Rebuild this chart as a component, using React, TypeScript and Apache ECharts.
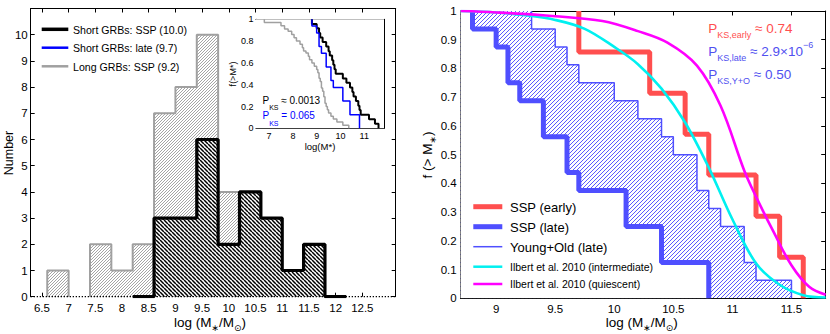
import React, { useEffect, useRef } from 'react';
import * as echarts from 'echarts';

// ---------- data ----------
// Left panel: histogram of host stellar masses, bins of 0.4 dex
const binEdges = [6.6, 7.0, 7.4, 7.8, 8.2, 8.6, 9.0, 9.4, 9.8, 10.2, 10.6, 11.0, 11.4, 11.8, 12.2];
const longCounts = [1, 0, 2, 1, 2, 7, 8, 10, 4, 1, 0, 0, 0, 0];
const shortCounts = [0, 0, 0, 0, 0, 3, 3, 6, 2, 4, 3, 1, 2, 0];
const histXTicks = [6.5, 7, 7.5, 8, 8.5, 9, 9.5, 10, 10.5, 11, 11.5, 12, 12.5];
const histYTicks = [0, 1, 2, 3, 4, 5, 6, 7, 8, 9, 10];

// Inset: cumulative distributions f(>M*)
const insetShortX = [8.8, 9.0, 9.1, 9.15, 9.25, 9.4, 9.5, 9.55, 9.65, 9.7, 9.75, 9.8, 10.1, 10.25, 10.4, 10.5, 10.55, 10.65, 10.75, 10.8, 10.85, 11.2, 11.45, 11.6];
const insetShortF = [0.958, 0.917, 0.875, 0.833, 0.792, 0.75, 0.708, 0.667, 0.625, 0.583, 0.542, 0.5, 0.458, 0.417, 0.375, 0.333, 0.292, 0.25, 0.208, 0.167, 0.125, 0.083, 0.042, 0];
const insetLongX = [6.8, 7.5, 7.65, 7.8, 7.95, 8.05, 8.15, 8.3, 8.4, 8.45, 8.55, 8.65, 8.7, 8.8, 8.9, 9.0, 9.05, 9.1, 9.15, 9.2, 9.25, 9.3, 9.35, 9.4, 9.45, 9.5, 9.6, 9.7, 9.85, 10.1, 10.35];
const insetLongF = [0.97, 0.94, 0.91, 0.89, 0.86, 0.83, 0.8, 0.77, 0.74, 0.71, 0.69, 0.66, 0.63, 0.6, 0.57, 0.54, 0.51, 0.46, 0.43, 0.37, 0.34, 0.29, 0.23, 0.2, 0.17, 0.14, 0.11, 0.086, 0.057, 0.029, 0];
const insetXTicks = [7, 8, 9, 10, 11];
const insetYTicks = [0, 0.2, 0.4, 0.6, 0.8, 1];

// Right panel: f(>M*) for short GRB hosts
const lateSspX = [8.8, 9.0, 9.1, 9.2, 9.4, 9.6, 9.7, 10.1, 10.4, 10.8];
const lateSspF = [0.9375, 0.875, 0.75, 0.6875, 0.5625, 0.4375, 0.375, 0.25, 0.125, 0];
const lateYoX = [9.3, 9.5, 9.6, 9.7, 10.0, 10.2, 10.4, 10.5, 10.7, 10.8, 10.9, 11.1, 11.2, 11.5];
const lateYoF = [0.9375, 0.875, 0.8125, 0.75, 0.6875, 0.625, 0.5625, 0.5, 0.375, 0.3125, 0.25, 0.125, 0.0625, 0];
const earlySspX = [9.7, 10.3, 10.6, 10.8, 11.2, 11.4, 11.6];
const earlySspF = [0.857, 0.714, 0.571, 0.429, 0.286, 0.143, 0];
const ilbertIntX = [8.7, 9.0, 9.25, 9.5, 9.75, 10.0, 10.2, 10.4, 10.6, 10.8, 11.0, 11.2, 11.4, 11.6, 11.79];
const ilbertIntF = [1.0, 0.995, 0.985, 0.969, 0.938, 0.875, 0.815, 0.73, 0.612, 0.455, 0.275, 0.122, 0.047, 0.011, 0.003];
const ilbertQuiX = [8.7, 9.0, 9.5, 9.9, 10.2, 10.45, 10.7, 10.9, 11.1, 11.2, 11.35, 11.5, 11.65, 11.79];
const ilbertQuiF = [1.0, 0.995, 0.982, 0.965, 0.93, 0.89, 0.81, 0.67, 0.445, 0.354, 0.23, 0.115, 0.04, 0.012];
const massXTicks = [9, 9.5, 10, 10.5, 11, 11.5];
const cdfYTicks = [0, 0.1, 0.2, 0.3, 0.4, 0.5, 0.6, 0.7, 0.8, 0.9, 1];

// ---------- styling ----------
const FONT = "'Liberation Sans', 'DejaVu Sans', Arial, sans-serif";
const RED = '#ff4f4f';
const BLUE = '#4f4fff';
const CYAN = '#00f0f0';
const MAGENTA = '#ff00ff';
const GRAY = '#a0a0a0';
const RX = 415; // x offset of the right chart

// hatch tile: square of side `size`, diagonal lines repeating every `period` px
function hatch(size: number, period: number, color: string, lw: number, forward: boolean) {
  const c = document.createElement('canvas');
  c.width = size;
  c.height = size;
  const g = c.getContext('2d')!;
  g.fillStyle = '#ffffff';
  g.fillRect(0, 0, size, size);
  g.strokeStyle = color;
  g.lineWidth = lw;
  g.beginPath();
  for (let o = -size; o <= size; o += period) {
    if (forward) {
      g.moveTo(o, size);
      g.lineTo(o + size, 0);
    } else {
      g.moveTo(o, 0);
      g.lineTo(o + size, size);
    }
  }
  g.stroke();
  return { image: c.toDataURL('image/png'), imageWidth: size, imageHeight: size, repeat: 'repeat' };
}

function stairs(xs: number[], fs: number[], x0?: number) {
  const pts: number[][] = [[x0 ?? xs[0], 1]];
  xs.forEach((x, i) => pts.push([x, fs[i]]));
  return pts;
}

function histRuns(edges: number[], counts: number[], padZeros: boolean) {
  const runs: number[][] = [];
  if (padZeros) {
    const f = counts.findIndex((c) => c > 0);
    let l = counts.length - 1;
    while (l > 0 && counts[l] === 0) l--;
    runs.push([Math.max(0, f - 1), Math.min(counts.length - 1, l + 1)]);
  } else {
    let s = -1;
    counts.forEach((c, i) => {
      if (c > 0 && s < 0) s = i;
      if (c === 0 && s >= 0) {
        runs.push([s, i - 1]);
        s = -1;
      }
    });
    if (s >= 0) runs.push([s, counts.length - 1]);
  }
  return runs.map(([s, t]) => {
    const pts: number[][] = [[edges[s], 0]];
    for (let i = s; i <= t; i++) pts.push([edges[i], counts[i]]);
    pts.push([edges[t + 1], 0]);
    return pts;
  });
}

function axis(
  gridIndex: number,
  min: number,
  max: number,
  ticks: number[],
  position: string,
  labels: boolean,
  fontSize: number,
  margin: number,
  tickLen: number,
  showLine = true
) {
  return {
    type: 'value',
    gridIndex,
    min,
    max,
    position,
    axisLine: { show: showLine, onZero: false, lineStyle: { color: '#000', width: 1 } },
    axisTick: { show: true, inside: true, length: tickLen, customValues: ticks, lineStyle: { color: '#000', width: 1 } },
    axisLabel: { show: labels, customValues: ticks, margin, fontSize, color: '#000', fontFamily: FONT },
    splitLine: { show: false },
  };
}

function txt(x: number, y: number, text: string, fontSize: number, color = '#000', extra: any = {}) {
  const { rich, align, ...rest } = extra;
  return {
    type: 'text',
    x,
    y,
    silent: true,
    z: 100,
    ...rest,
    style: {
      text,
      fill: color,
      fontSize,
      fontFamily: FONT,
      align: align ?? 'left',
      verticalAlign: 'middle',
      textAlign: align ?? 'left',
      textVerticalAlign: 'middle',
      ...(rich ? { rich } : {}),
    },
  };
}

function lg(x1: number, x2: number, y: number, color: string, width: number) {
  return { type: 'line', silent: true, z: 100, shape: { x1, y1: y, x2, y2: y }, style: { stroke: color, lineWidth: width } };
}

const subRich = (color: string, main: number, sub: number) => ({
  p: { fontSize: main, fontFamily: FONT, color, lineHeight: 22, verticalAlign: 'middle' },
  s: { fontSize: sub, fontFamily: FONT, color, lineHeight: 8, verticalAlign: 'bottom' },
  u: { fontSize: sub, fontFamily: FONT, color, lineHeight: 9, verticalAlign: 'top' },
});
const massRich = {
  p: { fontSize: 13.5, fontFamily: FONT, color: '#000', lineHeight: 20, verticalAlign: 'middle' },
  s: { fontSize: 9, fontFamily: FONT, color: '#000', lineHeight: 9, verticalAlign: 'bottom' },
};
const massTitle = '{p|log (M}{s|∗}{p|/M}{s|⊙}{p|)}';

function leftOption() {
  const grayPat = hatch(3, 3, '#9a9a9a', 0.9, true);
  const blackPat = hatch(4, 4, '#000000', 1.5, false);
  const series: any[] = [];
  histRuns(binEdges, longCounts, false).forEach((pts) =>
    series.push({
      type: 'line', xAxisIndex: 0, yAxisIndex: 0, step: 'end', data: pts, symbol: 'none', silent: true,
      lineStyle: { color: GRAY, width: 2 }, areaStyle: { color: grayPat, opacity: 1 }, z: 2,
    })
  );
  histRuns(binEdges, shortCounts, true).forEach((pts) =>
    series.push({
      type: 'line', xAxisIndex: 0, yAxisIndex: 0, step: 'end', data: pts, symbol: 'none', silent: true,
      lineStyle: { color: '#000', width: 3.2 }, areaStyle: { color: blackPat, opacity: 1 }, z: 3,
    })
  );
  series.push({
    type: 'line', xAxisIndex: 0, yAxisIndex: 0, data: [[6.29, 0], [13.125, 0]], symbol: 'none', silent: true, clip: false,
    lineStyle: { color: '#000', width: 1.3, type: [1.3, 1.7] }, z: 5,
  });
  const insetLine = (xs: number[], fs: number[], color: string, width: number) => ({
    type: 'line', xAxisIndex: 2, yAxisIndex: 2, step: 'end', data: stairs(xs, fs), symbol: 'none', silent: true,
    lineStyle: { color, width }, z: 6,
  });
  series.push(insetLine(insetLongX, insetLongF, GRAY, 1.5));
  series.push(insetLine(insetShortX, insetShortF, '#000', 2));
  series.push(insetLine(lateSspX, lateSspF, '#0000ff', 1.5));

  const graphic: any[] = [
    lg(41.7, 68.3, 29.3, '#000', 3.5),
    txt(73, 29.5, 'Short GRBs: SSP (10.0)', 10.6),
    lg(41.7, 68.3, 47.7, '#0000ff', 2.5),
    txt(73, 48, 'Short GRBs: late (9.7)', 10.6),
    lg(41.7, 68.3, 66.3, GRAY, 2.5),
    txt(73, 66.5, 'Long GRBs: SSP (9.2)', 10.6),
    txt(8.5, 153, 'Number', 12.5, '#000', { rotation: Math.PI / 2, align: 'center' }),
    txt(210, 322, massTitle, 13, '#000', { align: 'center', rich: massRich }),
    txt(320, 146.5, 'log(M*)', 9.5, '#000', { align: 'center' }),
    txt(232.5, 74, 'f(>M*)', 9, '#000', { rotation: Math.PI / 2, align: 'center' }),
    txt(262.5, 100, '{p|P}{s|KS}{p| ≈ 0.0013}', 10, '#000', { rich: subRich('#000', 10, 7) }),
    txt(262.5, 115.5, '{p|P}{s|KS}{p| = 0.065}', 10, '#0000ff', { rich: subRich('#0000ff', 10, 7) }),
  ];
  return {
    animation: false,
    backgroundColor: '#ffffff',
    grid: [
      { left: 30.7, top: 8.5, width: 365, height: 288.2 },
      { left: 256, top: 19.3, width: 128, height: 109, show: true, backgroundColor: '#ffffff', borderWidth: 0, z: 5 },
    ],
    xAxis: [
      axis(0, 6.29, 13.125, histXTicks, 'bottom', true, 11.5, 5, 4, false),
      axis(0, 6.29, 13.125, histXTicks, 'top', false, 11.5, 5, 4),
      axis(1, 6.45, 11.83, insetXTicks, 'bottom', true, 9, 3.5, 3),
      axis(1, 6.45, 11.83, insetXTicks, 'top', false, 9, 3, 3),
    ],
    yAxis: [
      axis(0, 0, 11, histYTicks, 'left', true, 11.5, 3, 4),
      axis(0, 0, 11, histYTicks, 'right', false, 11.5, 3, 4),
      axis(1, 0, 1, insetYTicks, 'left', true, 9, 2.5, 3),
      axis(1, 0, 1, insetYTicks, 'right', false, 9, 3, 3),
    ],
    series,
    graphic: { elements: graphic },
  };
}

function rightOption() {
  const bluePat = hatch(4, 4, '#5a5aff', 1, true);
  const series: any[] = [];
  series.push({
    type: 'line', step: 'end', data: stairs(lateYoX, lateYoF, 8.7), symbol: 'none', silent: true,
    lineStyle: { width: 0, opacity: 0 }, areaStyle: { color: bluePat, opacity: 1 }, z: 2,
  });
  series.push({
    type: 'line', step: 'end', data: stairs(lateSspX, lateSspF, 8.7), symbol: 'none', silent: true,
    lineStyle: { width: 0, opacity: 0 }, areaStyle: { color: '#ffffff', opacity: 1 }, z: 2,
  });
  const rLine = (data: number[][], color: string, width: number, extra: any = {}) => ({
    type: 'line', data, symbol: 'none', silent: true, lineStyle: { color, width }, z: 3, ...extra,
  });
  series.push(rLine(stairs(lateYoX, lateYoF), BLUE, 1.5, { step: 'end' }));
  series.push(rLine(stairs(lateSspX, lateSspF), BLUE, 5, { step: 'end' }));
  series.push(rLine(stairs(earlySspX, earlySspF), RED, 5, { step: 'end' }));
  series.push(rLine(ilbertIntX.map((x, i) => [x, ilbertIntF[i]]), CYAN, 2.6, { smooth: 0.35 }));
  series.push(rLine(ilbertQuiX.map((x, i) => [x, ilbertQuiF[i]]), MAGENTA, 2.6, { smooth: 0.35 }));

  const graphic: any[] = [
    txt(427 - RX, 155, '{p|f (> M}{s|∗}{p|)}', 13.5, '#000', { rotation: Math.PI / 2, align: 'center', rich: massRich }),
    txt(641.7 - RX, 322, massTitle, 13, '#000', { align: 'center', rich: massRich }),
    txt(708.3 - RX, 28, '{p|P}{s|KS,early}{p| ≈ 0.74}', 13.5, RED, { rich: subRich(RED, 13.5, 9) }),
    txt(708.3 - RX, 51, '{p|P}{s|KS,late}{p| ≈ 2.9×10}{u|−6}', 13.5, '#5050f0', { rich: subRich('#5050f0', 13.5, 9) }),
    txt(708.3 - RX, 74, '{p|P}{s|KS,Y+O}{p| ≈ 0.50}', 13.5, '#5050f0', { rich: subRich('#5050f0', 13.5, 9) }),
    lg(473.3 - RX, 502.3 - RX, 206.7, RED, 5),
    txt(510 - RX, 207, 'SSP (early)', 13),
    lg(473.3 - RX, 502.3 - RX, 226.7, BLUE, 5),
    txt(510 - RX, 227, 'SSP (late)', 13),
    lg(473.3 - RX, 502.3 - RX, 246.7, BLUE, 1.5),
    txt(510 - RX, 247, 'Young+Old (late)', 13),
    lg(473.3 - RX, 502.3 - RX, 266.7, CYAN, 2.5),
    txt(510 - RX, 267, 'Ilbert et al. 2010 (intermediate)', 10.5),
    lg(473.3 - RX, 502.3 - RX, 284, MAGENTA, 2.5),
    txt(510 - RX, 284.3, 'Ilbert et al. 2010 (quiescent)', 10.5),
  ];
  return {
    animation: false,
    backgroundColor: '#ffffff',
    grid: [{ left: 460.7 - RX, top: 11, width: 365, height: 287.3 }],
    xAxis: [
      axis(0, 8.7, 11.79, massXTicks, 'bottom', true, 11.5, 5, 4.5),
      axis(0, 8.7, 11.79, massXTicks, 'top', false, 11.5, 5, 4.5),
    ],
    yAxis: [
      axis(0, 0, 1, cdfYTicks, 'left', true, 11.5, 4, 4.5),
      axis(0, 0, 1, cdfYTicks, 'right', false, 11.5, 4, 4.5),
    ],
    series,
    graphic: { elements: graphic },
  };
}

export default function App() {
  const leftRef = useRef<HTMLDivElement>(null);
  const rightRef = useRef<HTMLDivElement>(null);

  useEffect(() => {
    if (!leftRef.current || !rightRef.current) return;
    const left = echarts.init(leftRef.current, undefined, { renderer: 'svg' });
    const right = echarts.init(rightRef.current, undefined, { renderer: 'svg' });
    left.setOption(leftOption() as any);
    right.setOption(rightOption() as any);
    return () => {
      left.dispose();
      right.dispose();
    };
  }, []);

  return (
    <div style={{ position: 'absolute', left: 0, top: 0, width: 830, height: 334, background: '#fff' }}>
      <div ref={leftRef} style={{ position: 'absolute', left: 0, top: 0, width: RX, height: 334 }} />
      <div ref={rightRef} style={{ position: 'absolute', left: RX, top: 0, width: 830 - RX, height: 334 }} />
    </div>
  );
}
